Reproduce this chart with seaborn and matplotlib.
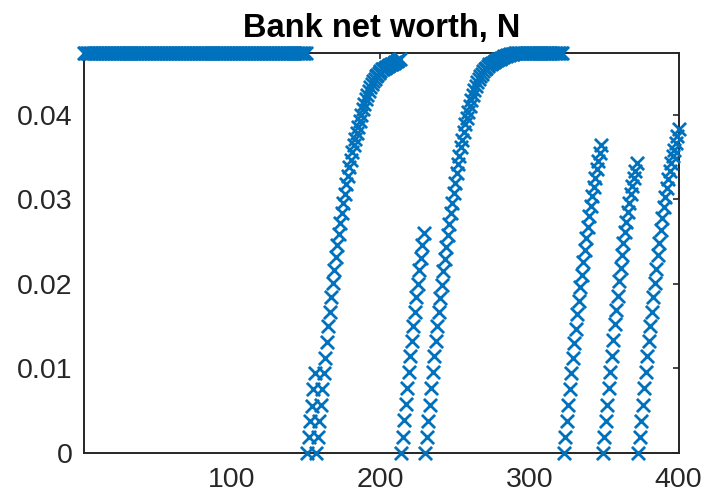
import numpy as np
import pandas as pd
import matplotlib
matplotlib.use("Agg")
import matplotlib.pyplot as plt
import seaborn as sns

# -----------------------
# Data (t = 1..400)
# -----------------------
top_level = 0.0473

seg_flat_start = [top_level] * 150          # t = 1..150

seg_b = [0, 0.0019, 0.0037, 0.0055, 0.0075, 0.0094]   # t = 151..156

seg_c = [0, 0.0019, 0.0037, 0.0056, 0.0075, 0.0094, 0.0112, 0.0131, 0.0150, 0.0167,
         0.0184, 0.0201, 0.0217, 0.0232, 0.0246, 0.0259, 0.0272, 0.0284, 0.0296, 0.0307,
         0.0318, 0.0328, 0.0338, 0.0347, 0.0356, 0.0364, 0.0372, 0.0379, 0.0386, 0.0393,
         0.0400, 0.0407, 0.0413, 0.0419, 0.0424, 0.0429, 0.0433, 0.0437, 0.0440, 0.0443,
         0.0446, 0.0448, 0.0450, 0.0452, 0.0454, 0.0455, 0.0456, 0.0457, 0.0458, 0.0459,
         0.0460, 0.0461, 0.0462, 0.0463, 0.0464, 0.0465, 0.0466]   # t = 157..213

seg_d = [0, 0.0019, 0.0039, 0.0058, 0.0077, 0.0096, 0.0114, 0.0132, 0.0150, 0.0167,
         0.0184, 0.0200, 0.0216, 0.0231, 0.0246, 0.0260]   # t = 214..229

seg_e = [0, 0.0019, 0.0037, 0.0057, 0.0077, 0.0096, 0.0114, 0.0132, 0.0150, 0.0167,
         0.0183, 0.0199, 0.0215, 0.0230, 0.0244, 0.0258, 0.0271, 0.0284, 0.0296, 0.0308,
         0.0319, 0.0331, 0.0342, 0.0352, 0.0362, 0.0371, 0.0380, 0.0389, 0.0397, 0.0404,
         0.0411, 0.0418, 0.0424, 0.0430, 0.0435, 0.0439, 0.0443, 0.0446, 0.0449, 0.0452,
         0.0454, 0.0456, 0.0458, 0.0460, 0.0461, 0.0462, 0.0463, 0.0464, 0.0465, 0.0466,
         0.0467, 0.0468, 0.0469, 0.0470, 0.0470, 0.0471, 0.0471, 0.0472, 0.0472, 0.0472]  # t = 230..289

seg_flat_mid = [top_level] * 33             # t = 290..322

seg_f = [0, 0.0019, 0.0038, 0.0057, 0.0076, 0.0094, 0.0112, 0.0130, 0.0147, 0.0164,
         0.0180, 0.0196, 0.0211, 0.0226, 0.0240, 0.0254, 0.0267, 0.0280, 0.0292, 0.0304,
         0.0315, 0.0326, 0.0336, 0.0346, 0.0355, 0.0364]   # t = 323..348

seg_g = [0, 0.0018, 0.0037, 0.0057, 0.0077, 0.0096, 0.0115, 0.0134, 0.0152, 0.0169,
         0.0186, 0.0203, 0.0219, 0.0234, 0.0248, 0.0261, 0.0273, 0.0285, 0.0296, 0.0306,
         0.0316, 0.0325, 0.0334, 0.0343]   # t = 349..372

seg_h = [0, 0.0018, 0.0037, 0.0057, 0.0077, 0.0096, 0.0114, 0.0132, 0.0150, 0.0167,
         0.0184, 0.0201, 0.0218, 0.0234, 0.0249, 0.0264, 0.0278, 0.0291, 0.0303, 0.0314,
         0.0324, 0.0334, 0.0343, 0.0351, 0.0359, 0.0367, 0.0375, 0.0383]   # t = 373..400

net_worth = (seg_flat_start + seg_b + seg_c + seg_d + seg_e + seg_flat_mid
             + seg_f + seg_g + seg_h)
t = np.arange(1, len(net_worth) + 1)

x_ticks = [100, 200, 300, 400]
y_ticks = [0, 0.01, 0.02, 0.03, 0.04]

df = pd.DataFrame({"t": t, "N": net_worth})

# -----------------------
# Plot
# -----------------------
sns.set_style("white")
plt.rcParams["font.family"] = ["Liberation Sans", "DejaVu Sans"]

fig = plt.figure(figsize=(7.04, 4.95), dpi=100)
ax = fig.add_axes([0.119, 0.0855, 0.845, 0.8065])

sns.scatterplot(data=df, x="t", y="N", ax=ax, marker="x", s=90,
                color="#0072BD", linewidth=2.0, clip_on=False, zorder=3)

ax.set_xlim(1, 400)
ax.set_ylim(0, top_level)
ax.set_xticks(x_ticks)
ax.set_yticks(y_ticks)
ax.set_yticklabels(["0", "0.01", "0.02", "0.03", "0.04"])
ax.set_xlabel("")
ax.set_ylabel("")

for side in ["left", "right", "top", "bottom"]:
    ax.spines[side].set_visible(True)
    ax.spines[side].set_color("#262626")
    ax.spines[side].set_linewidth(1.4)

ax.tick_params(direction="in", length=4, width=1.2, colors="#262626",
               labelsize=20.5, top=True, right=True)
ax.tick_params(axis="y", pad=8)
ax.tick_params(axis="x", pad=10)

ax.set_title("Bank net worth, N", fontsize=23.5, fontweight="bold", color="black", pad=12)

fig.savefig("out.png", dpi=100)
